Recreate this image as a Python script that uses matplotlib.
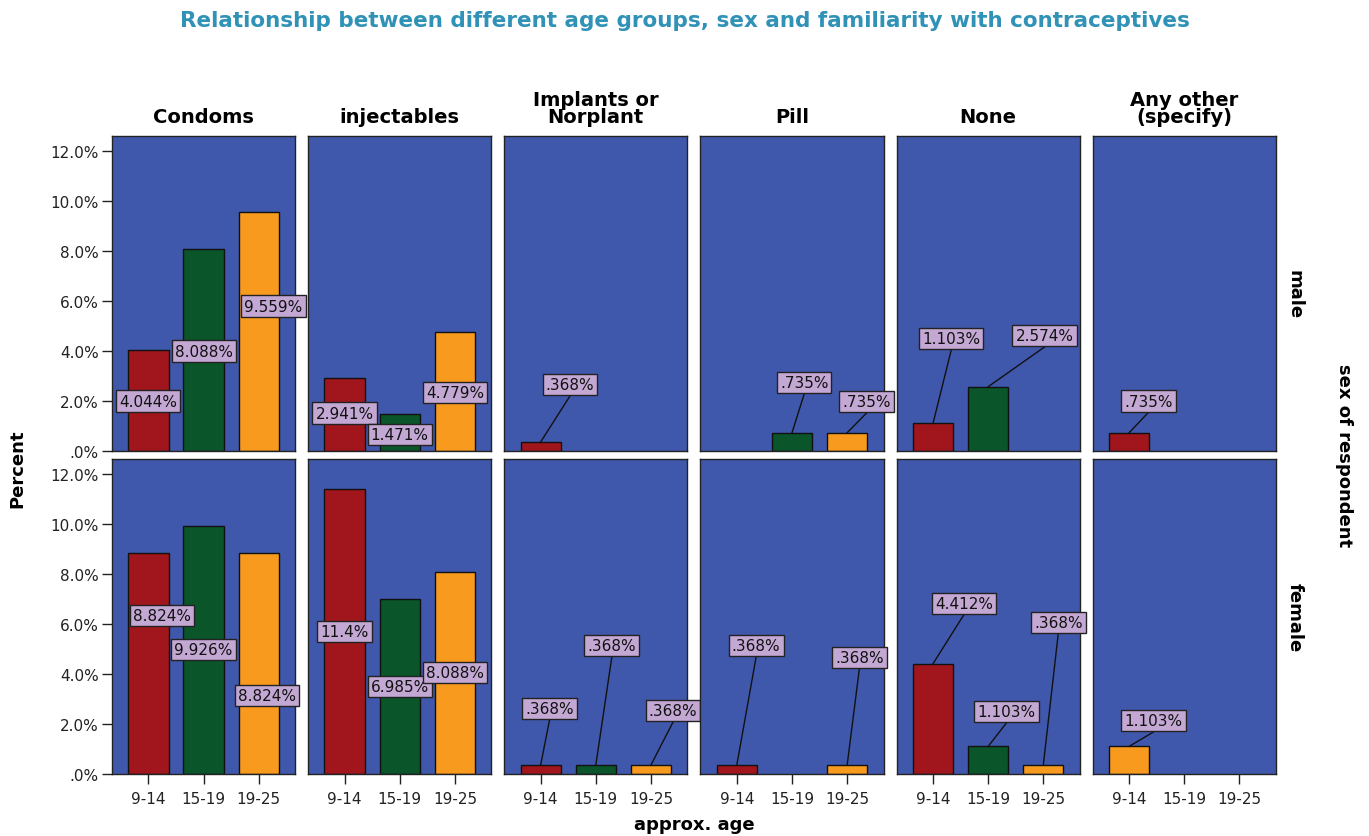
import numpy as np
import matplotlib
matplotlib.use('Agg')
import matplotlib.pyplot as plt

methods = ['Condoms', 'injectables', 'Implants or\nNorplant', 'Pill', 'None', 'Any other\n(specify)']
ages = ['9-14', '15-19', '19-25']
sexes = ['male', 'female']

# percent of respondents, one list per method, order = ages
male = [[4.044, 8.088, 9.559],
        [2.941, 1.471, 4.779],
        [0.368, 0, 0],
        [0, 0.735, 0.735],
        [1.103, 2.574, 0],
        [0.735, 0, 0]]
female = [[8.824, 9.926, 8.824],
          [11.4, 6.985, 8.088],
          [0.368, 0.368, 0.368],
          [0.368, 0, 0.368],
          [4.412, 1.103, 0.368],
          [1.103, 0, 0]]
values = [male, female]

colors = ['#A0161C', '#0A552A', '#F89A1E']
# SPSS drew this one bar orange
color_override = {(1, 5, 0): '#F89A1E'}

# where SPSS put the value labels (x in category units, y in percent)
label_pos = {
    (0, 0): [(0, 2.0), (1, 4.0), (2.27, 5.8)],
    (0, 1): [(0, 1.52), (1, 0.68), (2, 2.33)],
    (0, 2): [(0.53, 2.65), None, None],
    (0, 3): [None, (1.22, 2.73), (2.35, 1.97)],
    (0, 4): [(0.33, 4.49), (2.02, 4.61), None],
    (0, 5): [(0.35, 2.0), None, None],
    (1, 0): [(0.25, 6.34), (1, 4.98), (2.15, 3.13)],
    (1, 1): [(0, 5.7), (1, 3.49), (2, 4.05)],
    (1, 2): [(0.16, 2.61), (1.29, 5.14), (2.4, 2.53)],
    (1, 3): [(0.35, 5.14), None, (2.22, 4.65)],
    (1, 4): [(0.56, 6.82), (1.33, 2.49), (2.27, 6.06)],
    (1, 5): [(0.44, 2.13), None, None],
}

panel_bg = '#3F58AB'
box_col = '#C4A8D4'
box_half = 0.45  # half height of a label box, in percent units

def pct_label(v):
    s = ('%.3f' % v).rstrip('0').rstrip('.')
    return s.lstrip('0') + '%'

fig = plt.figure(figsize=(13.69, 8.37), dpi=100)
gs = fig.add_gridspec(2, 6, left=0.0818, right=0.932, top=0.8363, bottom=0.0741,
                      wspace=0.071, hspace=0.025)

x = np.arange(len(ages))
for r in range(2):
    for c in range(6):
        ax = fig.add_subplot(gs[r, c])
        ax.set_facecolor(panel_bg)
        vals = values[r][c]
        for i, v in enumerate(vals):
            if v <= 0:
                continue
            col = color_override.get((r, c, i), colors[i])
            ax.bar(x[i], v, width=0.73, color=col, edgecolor='#111111', linewidth=1.0, zorder=2)
            pos = label_pos[(r, c)][i]
            if pos is None:
                continue
            lx, ly = pos
            if ly > v:
                # leader line from bar top to bottom of the label box
                ax.plot([x[i], lx], [v, ly - box_half], color='#111111', lw=1.0, zorder=4)
            ax.text(lx, ly, pct_label(v), ha='center', va='center', fontsize=11, color='#111111',
                    bbox=dict(boxstyle='square,pad=0.2', fc=box_col, ec='#222222', lw=1.0),
                    clip_on=False, zorder=5)
        ax.set_xlim(-0.66, 2.66)
        ax.set_ylim(0, 12.6)
        ax.set_yticks([0, 2, 4, 6, 8, 10, 12])
        ax.set_xticks(x)
        for sp in ax.spines.values():
            sp.set_color('#222222')
            sp.set_linewidth(1.0)
        if c == 0:
            ax.set_yticklabels([('%.1f%%' % t).lstrip('0') for t in [0, 2, 4, 6, 8, 10, 12]])
            ax.tick_params(axis='y', length=7.5, width=1, labelsize=11, colors='#222222', pad=2)
        else:
            ax.tick_params(axis='y', left=False, labelleft=False)
        if r == 1:
            ax.set_xticklabels(ages)
            ax.tick_params(axis='x', length=7, width=1, labelsize=11, colors='#222222', pad=5)
        else:
            ax.tick_params(axis='x', bottom=False, labelbottom=False)
        if r == 0:
            ax.set_title(methods[c], fontsize=14, fontweight='bold', pad=10, linespacing=0.85)
        if c == 5:
            ax.text(1.1, 0.5, sexes[r], transform=ax.transAxes, rotation=270,
                    ha='center', va='center', fontsize=13, fontweight='bold')

fig.text(0.5, 0.975, 'Relationship between different age groups, sex and familiarity with contraceptives',
         ha='center', va='center', fontsize=15.5, fontweight='bold', color='#3092B6')
fig.text(0.982, 0.456, 'sex of respondent', rotation=270, ha='center', va='center',
         fontsize=13, fontweight='bold')
fig.text(0.013, 0.44, 'Percent', rotation=90, ha='center', va='center',
         fontsize=13, fontweight='bold')
fig.text(0.507, 0.014, 'approx. age', ha='center', va='center', fontsize=13, fontweight='bold')

plt.savefig('out.png', dpi=100)
